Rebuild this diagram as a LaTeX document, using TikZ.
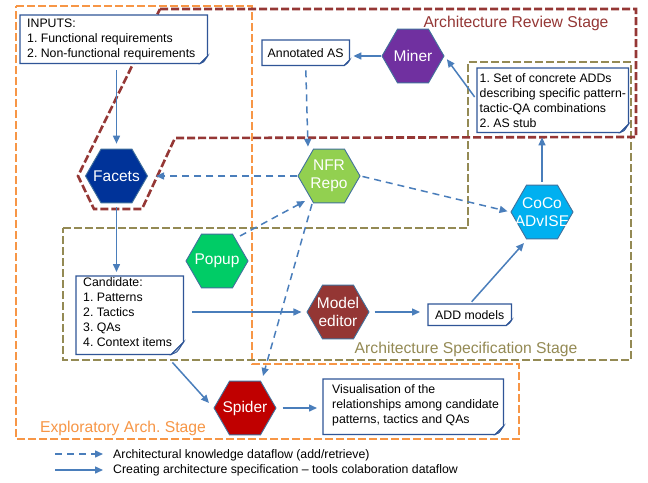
\documentclass[tikz,border=0pt]{standalone}
\usepackage{fontspec}
\setmainfont{Liberation Sans}
\frenchspacing
\usetikzlibrary{shapes.geometric,arrows.meta,calc}
\definecolor{flowblue}{HTML}{4A7EBB}
\definecolor{noteborder}{HTML}{2F5597}
\definecolor{hexborder}{HTML}{41719C}
\definecolor{foldfill}{HTML}{B4C3D6}
\definecolor{orangeframe}{HTML}{F79646}
\definecolor{redframe}{HTML}{953735}
\definecolor{oliveframe}{HTML}{948A54}
\definecolor{facetsblue}{HTML}{003399}
\definecolor{nfrgreen}{HTML}{92D050}
\definecolor{minerpurple}{HTML}{7030A0}
\definecolor{cococyan}{HTML}{00B0F0}
\definecolor{popupgreen}{HTML}{00CC66}
\definecolor{modelred}{HTML}{943634}
\definecolor{spiderred}{HTML}{C00000}
\newcommand\dognote[2]{%
  \fill[white] (#1.north west) -- (#1.north east) -- ($(#1.south east)+(0,-#2)$) -- ($(#1.south east)+(-#2,0)$) -- (#1.south west) -- cycle;
  \draw[notepath] (#1.north west) -- (#1.north east) -- ($(#1.south east)+(0,-#2)$) -- ($(#1.south east)+(-#2,0)$) -- (#1.south west) -- cycle;
  \draw[notepath, fill=foldfill, line width=0.8pt] ($(#1.south east)+(-#2,0)$) .. controls ($(#1.south east)+(-0.5*#2,-0.2*#2)$) .. ($(#1.south east)+(-0.35*#2,-0.45*#2)$) -- ($(#1.south east)+(0,-#2)$) -- cycle;
}
\begin{document}
\begin{tikzpicture}[x=1pt,y=-1pt,
  frame/.style={line width=2.6pt, dash pattern=on 8pt off 3pt, line join=miter},
  hex/.style={regular polygon, regular polygon sides=6, minimum size=62pt, inner sep=0pt, draw=hexborder, line width=0.9pt, fill=#1},
  hexlabel/.style={text=white, align=center, font=\fontsize{15.5}{18}\selectfont},
  notebox/.style={anchor=north west, inner sep=0pt, draw=none},
  notetext/.style={anchor=west, inner sep=0pt, align=left, font=\fontsize{12.3}{15}\selectfont, text=black},
  notepath/.style={draw=noteborder, line width=1.3pt, line join=miter},
  flow/.style={draw=flowblue, line width=1.5pt, -{Triangle[length=8pt,width=7pt]}},
  akflow/.style={flow, dash pattern=on 7pt off 5pt},
  stagelabel/.style={font=\fontsize{15.7}{18}\selectfont, inner sep=0pt},
  legendtext/.style={anchor=west, inner sep=0pt, font=\fontsize{12.3}{15}\selectfont}
]
\useasboundingbox (0,0) rectangle (648,482);
\fill[white] (0,0) rectangle (648,482);

% stage frames
\draw[frame, draw=orangeframe] (16,6) -- (252,6) -- (252,364) -- (519,364) -- (519,439) -- (16,439) -- cycle;
\draw[frame, draw=oliveframe] (63,228) -- (468,228) -- (468,62) -- (631,62) -- (631,360) -- (63,360) -- cycle;
\draw[frame, draw=redframe] (160,9) -- (636,9) -- (636,137) -- (175,138) -- (142,209) -- (94,209) -- (78,176) -- cycle;

\node[stagelabel, text=redframe] (revlabel) at (516,23) {Architecture Review Stage};
\node[stagelabel, text=oliveframe] (speclabel) at (466,349) {Architecture Specification Stage};
\node[stagelabel, text=orangeframe] (explabel) at (123,428) {Exploratory Arch. Stage};

% note boxes
\node[notebox, minimum width=187pt, minimum height=48pt] (inputs) at (20,15) {};
\node[notebox, minimum width=87pt, minimum height=25pt] (annot) at (262,40) {};
\node[notebox, minimum width=151pt, minimum height=64pt] (setbox) at (477,68) {};
\node[notebox, minimum width=107pt, minimum height=78pt] (cand) at (76,276) {};
\node[notebox, minimum width=83pt, minimum height=21pt] (addm) at (428,304) {};
\node[notebox, minimum width=180pt, minimum height=55pt] (visual) at (323,379) {};
\dognote{inputs}{7}
\dognote{annot}{5}
\dognote{setbox}{8}
\dognote{cand}{12}
\dognote{addm}{5}
\dognote{visual}{8}
\node[notetext] (inputs-t) at ($(inputs.west)+(7,0.5)$)
  {INPUTS:\\1. Functional requirements\\2. Non-functional requirements};
\node[notetext, anchor=center] (annot-t) at (annot.center) {Annotated AS};
\node[notetext] (setbox-t) at ($(setbox.west)+(2.5,0.5)$)
  {1. Set of concrete ADDs\\describing specific pattern-\\tactic-QA combinations\\2. AS stub};
\node[notetext] (cand-t) at ($(cand.west)+(7,-3)$)
  {Candidate:\\1. Patterns\\2. Tactics\\3. QAs\\4. Context items};
\node[notetext, anchor=center] (addm-t) at (addm.center) {ADD models};
\node[notetext] (visual-t) at ($(visual.west)+(9,-1.5)$)
  {Visualisation of the\\relationships among candidate\\patterns, tactics and QAs};

% hexagons
\node[hex=facetsblue, label={[hexlabel]center:Facets}] (facets) at (116.5,176) {};
\node[hex=nfrgreen, label={[hexlabel]center:{NFR\\Repo}}] (nfr) at (329,176) {};
\node[hex=minerpurple, label={[hexlabel]center:Miner}] (miner) at (413,56) {};
\node[hex=cococyan, label={[hexlabel]center:{CoCo\\ADvISE}}] (coco) at (542,212) {};
\node[hex=popupgreen, label={[hexlabel]center:Popup}] (popup) at (217,261) {};
\node[hex=modelred, label={[hexlabel]center:{Model\\editor}}] (model) at (338,312) {};
\node[hex=spiderred, label={[hexlabel]center:Spider}] (spider) at (245,408) {};

% knowledge (dashed) flows
\draw[akflow, shorten >=8pt] (nfr.west) -- (facets.east);
\draw[akflow, shorten <=5pt, shorten >=2pt] (annot.south) -- ($(nfr.north)+(-21,0)$);
\draw[akflow, shorten <=2pt, shorten >=3pt] (nfr.east) -- (coco.west);
\draw[akflow] ($(popup.center)+(23,-25)$) -- ($(nfr.center)+(-24,25)$);
\draw[akflow] ($(nfr.center)+(-17,28)$) -- ($(spider.center)+(18,-32)$);

% specification (solid) flows
\draw[flow, shorten <=7pt, shorten >=5pt] (facets |- inputs.south) -- (facets.north);
\draw[flow, shorten <=4pt, shorten >=4pt] (facets.south) -- (facets |- cand.north);
\draw[flow, shorten <=9pt, shorten >=5pt] (cand.east |- model) -- (model.west);
\draw[flow] ($(cand.south east)+(-11,8)$) -- ($(spider.center)+(-36,-5)$);
\draw[flow, shorten <=6pt, shorten >=6pt] (spider.east) -- (spider.east -| visual.west);
\draw[flow, shorten <=5pt, shorten >=8pt] (model.east) -- (model.east -| addm.west);
\draw[flow, shorten <=3pt] (addm.north) -- ($(coco.center)+(-18,31)$);
\draw[flow, shorten <=3pt, shorten >=5pt] (coco.north) -- (coco.north |- setbox.south);
\draw[flow, shorten <=4pt, shorten >=4pt] (setbox.west) -- (miner.east);
\draw[flow, shorten >=4pt] (miner.west) -- (miner -| annot.east);

% legend
\coordinate (lega) at (55,454);
\coordinate (legb) at (103,454);
\coordinate (legc) at (55,470);
\coordinate (legd) at (103,470);
\draw[akflow] (lega) -- (legb);
\draw[flow] (legc) -- (legd);
\node[legendtext] (legtext1) at (113,455) {Architectural knowledge dataflow (add/retrieve)};
\node[legendtext] (legtext2) at (113,470) {Creating architecture specification – tools colaboration dataflow};
\end{tikzpicture}
\end{document}
